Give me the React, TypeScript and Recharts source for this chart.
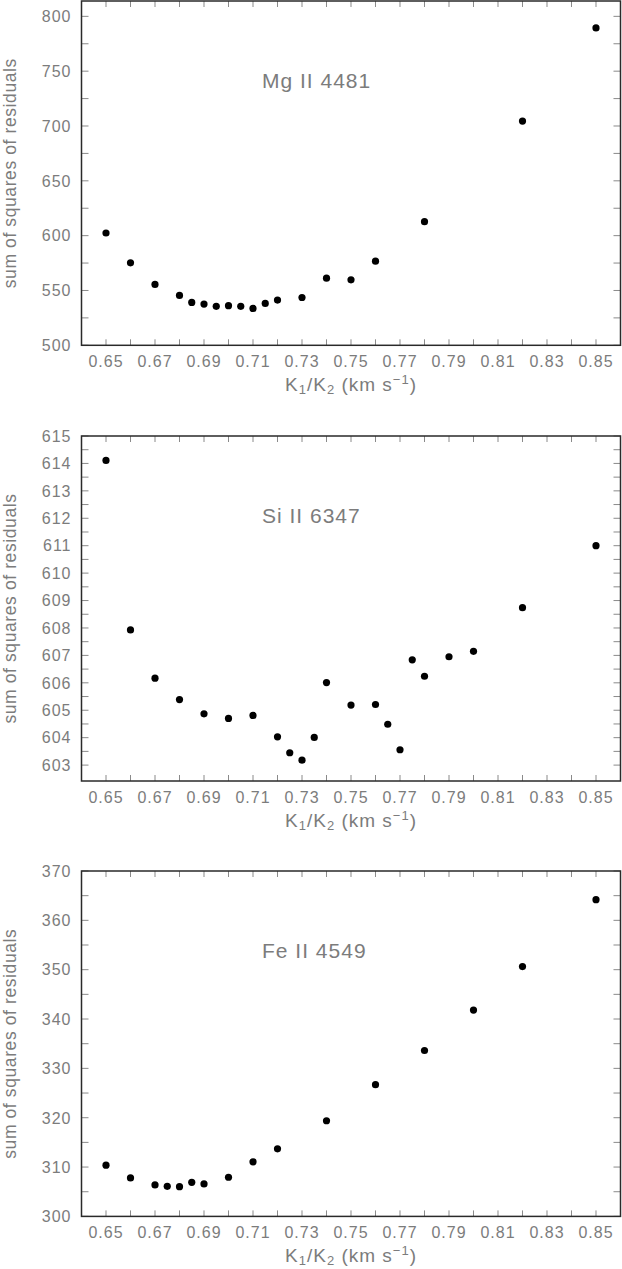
import React from 'react';
import { ScatterChart, Scatter, XAxis, YAxis } from 'recharts';

// ---------- data ----------
const mgK = [0.65, 0.66, 0.67, 0.68, 0.685, 0.69, 0.695, 0.7, 0.705, 0.71, 0.715, 0.72, 0.73, 0.74, 0.75, 0.76, 0.78, 0.82, 0.85];
const mgSSR = [602.4, 575.2, 555.5, 545.5, 539.1, 537.6, 535.5, 536.1, 535.5, 533.6, 538.2, 541.2, 543.6, 561.2, 559.7, 576.7, 612.7, 704.5, 789.4];

const siK = [0.65, 0.66, 0.67, 0.68, 0.69, 0.7, 0.71, 0.72, 0.725, 0.73, 0.735, 0.74, 0.75, 0.76, 0.765, 0.77, 0.775, 0.78, 0.79, 0.8, 0.82, 0.85];
const siSSR = [614.11, 607.93, 606.17, 605.39, 604.87, 604.7, 604.81, 604.03, 603.45, 603.18, 604.01, 606.01, 605.19, 605.21, 604.49, 603.56, 606.84, 606.24, 606.95, 607.15, 608.74, 611.0];

const feK = [0.65, 0.66, 0.67, 0.675, 0.68, 0.685, 0.69, 0.7, 0.71, 0.72, 0.74, 0.76, 0.78, 0.8, 0.82, 0.85];
const feSSR = [310.37, 307.79, 306.37, 306.1, 306.03, 306.91, 306.57, 307.93, 311.05, 313.7, 319.38, 326.7, 333.62, 341.82, 350.63, 364.19];

const kTicks = [0.65, 0.66, 0.67, 0.68, 0.69, 0.7, 0.71, 0.72, 0.73, 0.74, 0.75, 0.76, 0.77, 0.78, 0.79, 0.8, 0.81, 0.82, 0.83, 0.84, 0.85];
const kTickLabels = ['0.65', '0.67', '0.69', '0.71', '0.73', '0.75', '0.77', '0.79', '0.81', '0.83', '0.85'];

const mgTicks = [500, 525, 550, 575, 600, 625, 650, 675, 700, 725, 750, 775, 800];
const mgTickLabels = [500, 550, 600, 650, 700, 750, 800];
const siTicks = [603, 603.5, 604, 604.5, 605, 605.5, 606, 606.5, 607, 607.5, 608, 608.5, 609, 609.5, 610, 610.5, 611, 611.5, 612, 612.5, 613, 613.5, 614, 614.5, 615];
const siTickLabels = [603, 604, 605, 606, 607, 608, 609, 610, 611, 612, 613, 614, 615];
const feTicks = [300, 305, 310, 315, 320, 325, 330, 335, 340, 345, 350, 355, 360, 365, 370];
const feTickLabels = [300, 310, 320, 330, 340, 350, 360, 370];

// ---------- style ----------
const FONT = '"Liberation Sans", Arial, Helvetica, sans-serif';
const TEXT = '#7c7c7c';
const TICK = '#8a8a8a';
const FRAME = '#2a2a2a';
const W = 622;
const LEFT = 81.5;
const RIGHT_M = 1.5;
const PLOT_W = W - LEFT - RIGHT_M;
const TOP_M = 14;
const XAX_H = 50;

type PanelProps = {
  plotTop: number;
  plotH: number;
  yDomain: [number, number];
  yTicks: number[];
  yLabels: number[];
  ks: number[];
  vals: number[];
  title: string;
};

const Dot = (p: any) => {
  if (p.cx == null || p.cy == null) return null;
  return <circle cx={p.cx} cy={p.cy} r={3.6} fill="#000" />;
};

function Panel({ plotTop, plotH, yDomain, yTicks, yLabels, ks, vals, title }: PanelProps) {
  const data = ks.map((k, i) => ({ k, v: vals[i] }));
  const H = TOP_M + plotH + XAX_H;

  const xTick = (props: any) => {
    const { x, y, payload } = props;
    const v = Number(payload.value);
    const s = v.toFixed(2);
    const lab = kTickLabels.includes(s);
    return (
      <g>
        <line x1={x} x2={x} y1={y} y2={y - 6} stroke={TICK} strokeWidth={1} />
        <line x1={x} x2={x} y1={y - plotH} y2={y - plotH + 6} stroke={TICK} strokeWidth={1} />
        {lab && (
          <text x={x} y={y + 22} textAnchor="middle" fill={TEXT} fontSize={16} fontFamily={FONT} letterSpacing={1}>
            {s}
          </text>
        )}
      </g>
    );
  };

  const yTick = (props: any) => {
    const { x, y, payload } = props;
    const v = Number(payload.value);
    const lab = yLabels.includes(v);
    return (
      <g>
        <line x1={x} x2={x + 7} y1={y} y2={y} stroke={TICK} strokeWidth={1} />
        <line x1={x + PLOT_W - 7} x2={x + PLOT_W} y1={y} y2={y} stroke={TICK} strokeWidth={1} />
        {lab && (
          <text x={x - 10} y={y + 5.8} textAnchor="end" fill={TEXT} fontSize={16} fontFamily={FONT} letterSpacing={1}>
            {String(v)}
          </text>
        )}
      </g>
    );
  };

  const cx = LEFT + PLOT_W / 2;
  const cy = TOP_M + plotH / 2;
  const yLabX = 16;

  return (
    <div style={{ position: 'absolute', left: 0, top: plotTop - TOP_M, width: W, height: H }}>
      <ScatterChart width={W} height={H} margin={{ top: TOP_M, right: RIGHT_M, bottom: 0, left: 0 }}>
        <XAxis
          type="number"
          dataKey="k"
          domain={[0.64, 0.86]}
          ticks={kTicks}
          interval={0}
          height={XAX_H}
          tickSize={0}
          tickMargin={0}
          axisLine={false}
          tickLine={false}
          tick={xTick}
          allowDataOverflow
        />
        <YAxis
          type="number"
          dataKey="v"
          domain={yDomain}
          ticks={yTicks}
          interval={0}
          width={LEFT}
          tickSize={0}
          tickMargin={0}
          axisLine={false}
          tickLine={false}
          tick={yTick}
          allowDataOverflow
        />
        <Scatter data={data} fill="#000" shape={Dot} isAnimationActive={false} />
      </ScatterChart>
      <svg
        width={W}
        height={H + 10}
        style={{ position: 'absolute', left: 0, top: 0, overflow: 'visible', pointerEvents: 'none' }}
      >
        <rect x={LEFT} y={TOP_M} width={PLOT_W} height={plotH} fill="none" stroke={FRAME} strokeWidth={1.5} />
        <text x={262} y={TOP_M + 87} fill={TEXT} fontSize={21} fontFamily={FONT} letterSpacing={1}>
          {title}
        </text>
        <text
          x={yLabX}
          y={cy}
          transform={`rotate(-90, ${yLabX}, ${cy})`}
          textAnchor="middle"
          fill={TEXT}
          fontSize={17.5}
          fontFamily={FONT}
          letterSpacing={0.6}
        >
          sum of squares of residuals
        </text>
        <text x={cx} y={TOP_M + plotH + 46} textAnchor="middle" fill={TEXT} fontSize={19} fontFamily={FONT} letterSpacing={1}>
          K
          <tspan fontSize={13} dy={3}>1</tspan>
          <tspan dy={-3}>/K</tspan>
          <tspan fontSize={13} dy={3}>2</tspan>
          <tspan dy={-3}> (km s</tspan>
          <tspan fontSize={13} dy={-7}>−1</tspan>
          <tspan dy={7}>)</tspan>
        </text>
      </svg>
    </div>
  );
}

export default function App() {
  return (
    <div style={{ position: 'absolute', left: 0, top: 0, width: 622, height: 1269, overflow: 'hidden', background: '#fff' }}>
      <Panel plotTop={1} plotH={344.3} yDomain={[500, 814]} yTicks={mgTicks} yLabels={mgTickLabels} ks={mgK} vals={mgSSR} title="Mg II 4481" />
      <Panel plotTop={436} plotH={345} yDomain={[602.42, 615]} yTicks={siTicks} yLabels={siTickLabels} ks={siK} vals={siSSR} title="Si II 6347" />
      <Panel plotTop={871.3} plotH={345.4} yDomain={[300, 370]} yTicks={feTicks} yLabels={feTickLabels} ks={feK} vals={feSSR} title="Fe II 4549" />
    </div>
  );
}
